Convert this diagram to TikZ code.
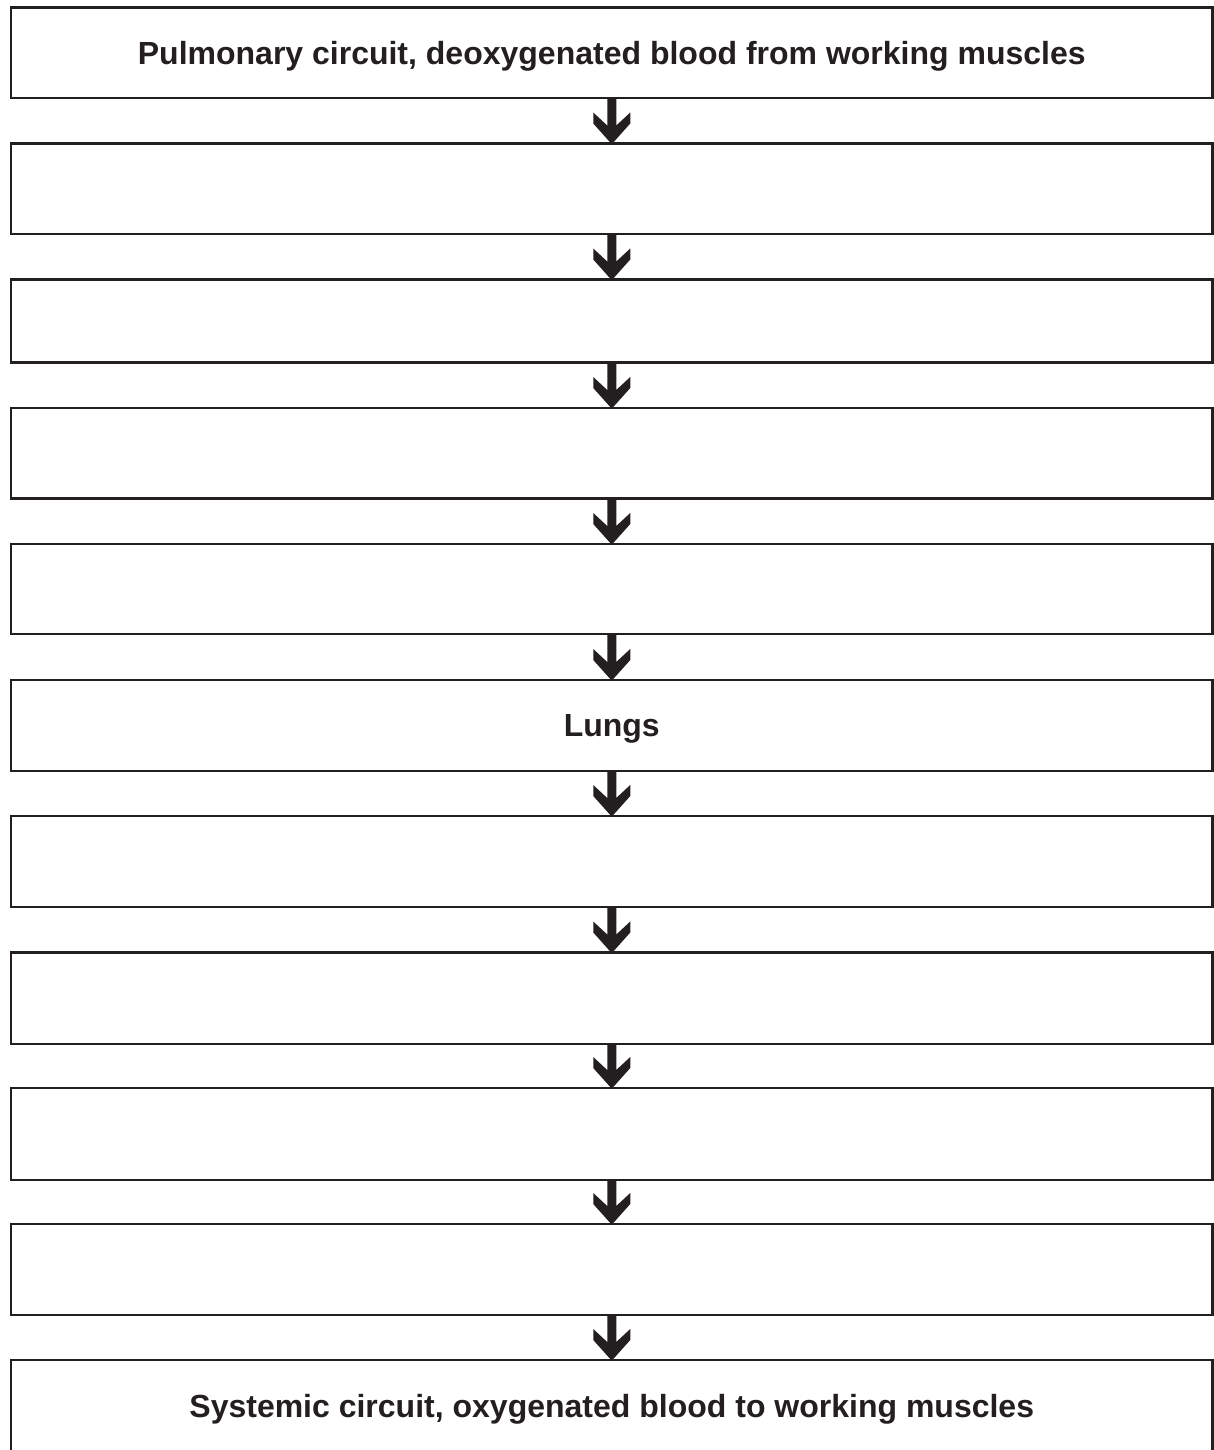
\documentclass[tikz,border=0pt]{standalone}
\usepackage{fontspec}
\setmainfont{Liberation Sans}
\usetikzlibrary{calc}
\definecolor{ink}{RGB}{35,31,32}
\newcommand{\flowarrow}[2]{%
  \fill[ink] ($(#1.south)+(-4.5,0)$) -- ($(#2.north)+(-4.5,-18)$) -- ($(#2.north)+(-18.5,-31)$)
    -- ($(#2.north)+(-18.5,-20)$) -- ($(#2.north)+(-0.6,0)$) -- ($(#2.north)+(0.6,0)$) -- ($(#2.north)+(18.5,-20)$)
    -- ($(#2.north)+(18.5,-31)$) -- ($(#2.north)+(4.5,-18)$) -- ($(#1.south)+(4.5,0)$) -- cycle;}
\begin{document}
\begin{tikzpicture}[x=1pt,y=-1pt,
  box/.style={draw=ink, line width=2.4pt, minimum width=1201.5pt, inner sep=0pt, outer sep=0pt,
    text=ink, text height=22.9pt, text depth=0pt, font=\fontsize{32}{38}\selectfont\bfseries}]
\useasboundingbox (0,0) rectangle (1214,1450);
\fill[white] (0,0) rectangle (1214,1450);
\node[box, minimum height=90.5pt] (b1) at (611.75,52.75) {Pulmonary circuit, deoxygenated blood from working muscles};
\node[box, minimum height=90.5pt] (b2) at (611.75,188.75) {};
\node[box, minimum height=83pt] (b3) at (611.75,321) {};
\node[box, minimum height=90.5pt] (b4) at (611.75,453.25) {};
\node[box, minimum height=90pt] (b5) at (611.75,589) {};
\node[box, minimum height=91pt] (b6) at (611.75,725.5) {Lungs};
\node[box, minimum height=91pt] (b7) at (611.75,861.5) {};
\node[box, minimum height=91.5pt] (b8) at (611.75,998.25) {};
\node[box, minimum height=92pt] (b9) at (611.75,1134) {};
\node[box, minimum height=91pt] (b10) at (611.75,1269.5) {};
\node[box, minimum height=92pt] (b11) at (611.75,1406) {Systemic circuit, oxygenated blood to working muscles};
\flowarrow{b1}{b2}
\flowarrow{b2}{b3}
\flowarrow{b3}{b4}
\flowarrow{b4}{b5}
\flowarrow{b5}{b6}
\flowarrow{b6}{b7}
\flowarrow{b7}{b8}
\flowarrow{b8}{b9}
\flowarrow{b9}{b10}
\flowarrow{b10}{b11}
\end{tikzpicture}
\end{document}
